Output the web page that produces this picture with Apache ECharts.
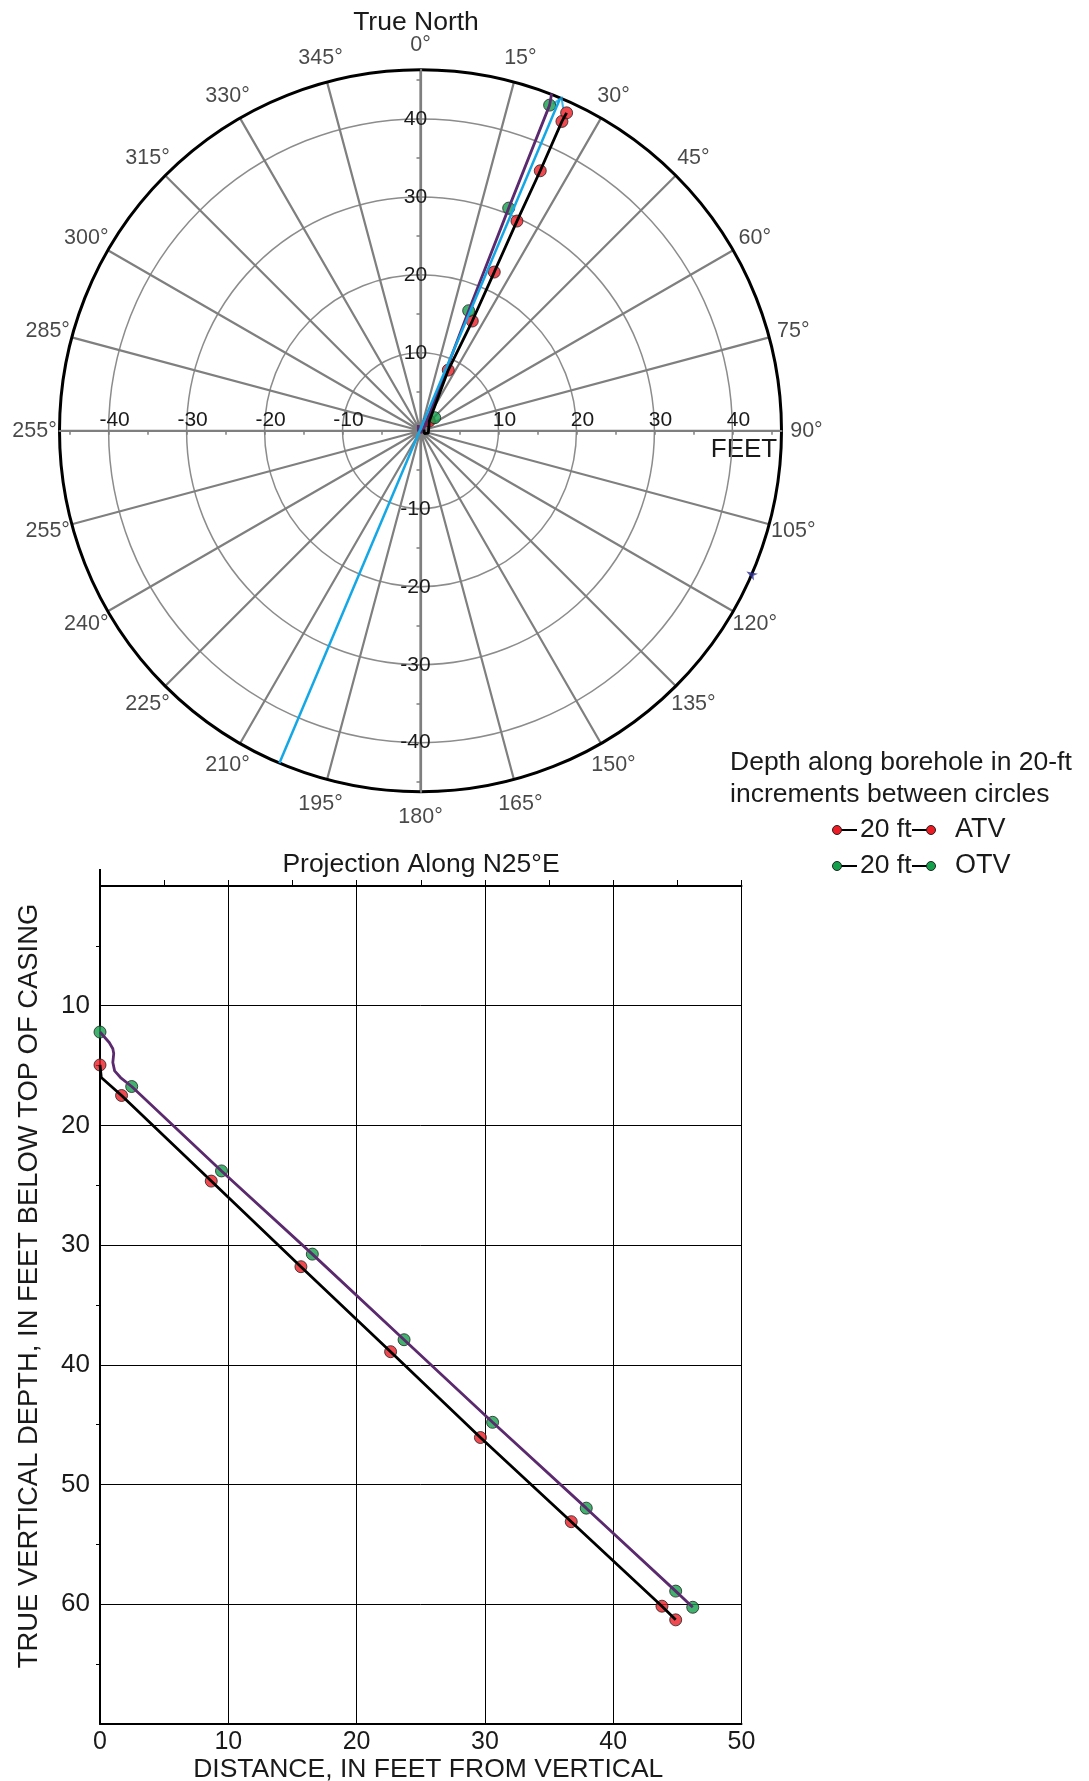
<!DOCTYPE html>
<html>
<head>
<meta charset="utf-8">
<title>Borehole deviation</title>
<script src="https://cdn.jsdelivr.net/npm/echarts@6/dist/echarts.min.js"></script>
<style>
  html, body { margin: 0; padding: 0; background: #fff; }
  #chart { width: 1089px; height: 1781px; }
</style>
</head>
<body>
<div id="chart"></div>
<script>
// 角度标签 (the 270 spoke really is labelled 255° in the source figure)
const angleLabels = ['0°', '15°', '30°', '45°', '60°', '75°', '90°', '105°', '120°', '135°', '150°', '165°',
  '180°', '195°', '210°', '225°', '240°', '255°', '255°', '285°', '300°', '315°', '330°', '345°'];

// plan view, feet east (x) / north (y)
const planMax = 46.3;
const planLabelValues = [-40, -30, -20, -10, 10, 20, 30, 40];
const planTickValues = [-45, -40, -35, -30, -25, -20, -15, -10, -5, 5, 10, 15, 20, 25, 30, 35, 40, 45];

const azimuthLine = [[-18.09, -42.6], [17.87, 42.56]];
const atvPlanPath = [[0.45, 0.15], [0.5, -0.35], [1.0, -0.3], [1.13, 1.26], [3.56, 7.79], [6.64, 14.08],
  [9.46, 20.36], [12.37, 26.9], [15.36, 33.35], [18.14, 39.68], [18.74, 40.78]];
const atvPlanDots = [[1.13, 1.26], [3.56, 7.79], [6.64, 14.08], [9.46, 20.36], [12.37, 26.9],
  [15.36, 33.35], [18.14, 39.68], [18.74, 40.78]];
const otvPlanPath = [[-0.28, 0.74], [-0.28, 0.0], [0.15, -0.2], [0.36, 0.1], [6.18, 15.4],
  [11.31, 28.56], [16.56, 41.77], [16.82, 43.27]];
const otvPlanDots = [[1.82, 1.68], [6.18, 15.4], [11.31, 28.56], [16.56, 41.77]];
const strayMark = [[41.8, -18.06]];

// projection along N25E: [distance ft, depth ft]
const depthLabels = [10, 20, 30, 40, 50, 60];
const atvProjPath = [[0, 14.95], [0.1, 16.0], [1.68, 17.5], [8.67, 24.65], [15.66, 31.8], [22.65, 38.9],
  [29.65, 46.07], [36.73, 53.1], [43.8, 60.16], [44.87, 61.3]];
const atvProjDots = [[0, 14.95], [1.68, 17.5], [8.67, 24.65], [15.66, 31.8], [22.65, 38.9],
  [29.65, 46.07], [36.73, 53.1], [43.8, 60.16], [44.87, 61.3]];
const otvProjPath = [[0, 12.2], [0.72, 13.07], [1.0, 13.6], [1.07, 14.0], [1.0, 14.74], [1.14, 15.44],
  [1.6, 16.0], [2.47, 16.75], [9.47, 23.8], [16.55, 30.75], [23.7, 37.9], [30.6, 44.8],
  [37.9, 51.97], [44.87, 58.9], [46.2, 60.25]];
const otvProjDots = [[0, 12.2], [2.47, 16.75], [9.47, 23.8], [16.55, 30.75], [23.7, 37.9],
  [30.6, 44.8], [37.9, 51.97], [44.87, 58.9], [46.2, 60.25]];

const FONT = "'Liberation Sans', Arial, sans-serif";
const TEXT = '#1a1a1a';
const RED = '#ed1c24';
const GREEN = '#12a04a';
const PURPLE = '#5b2a6e';
const CYAN = '#14a7e6';
const SPOKE = '#7f7f7f';

// plan circle on the page
const CX = 420.5, CY = 430.8, R = 361;
const angleLabelRadius = 49.5;

// arrow heading on the azimuth line
const arrowRotate = -Math.atan2(azimuthLine[1][0], azimuthLine[1][1]) * 180 / Math.PI;

const dotStyle = (color) => ({ color: color, borderColor: '#222', borderWidth: 1 });
const hiddenAxis = (gridIndex) => ({ gridIndex: gridIndex, type: 'value', min: 0, max: 1, show: false });
const txt = (x, y, text, size, align) => ({
  type: 'text', x: x, y: y,
  style: { text: text, fontSize: size, fontFamily: FONT, fill: TEXT, textAlign: align || 'left', textVerticalAlign: 'middle' }
});

const chart = echarts.init(document.getElementById('chart'));
chart.setOption({
  animation: false,
  backgroundColor: '#fff',
  textStyle: { fontFamily: FONT, color: TEXT },
  polar: { center: [CX, CY], radius: R },
  angleAxis: {
    type: 'value',
    min: 0,
    max: 360,
    interval: 15,
    startAngle: 90,
    clockwise: true,
    axisLine: { lineStyle: { color: '#000', width: 3 } },
    axisTick: { show: false },
    axisLabel: { show: false },
    splitLine: { lineStyle: { color: SPOKE, width: 2.2 } }
  },
  radiusAxis: {
    min: 0,
    max: planMax,
    interval: 10,
    axisLine: { show: false },
    axisTick: { show: false },
    axisLabel: { show: false },
    splitLine: { showMaxLine: false, lineStyle: { color: '#8c8c8c', width: 1.5 } }
  },
  grid: [
    // 0: plan view data (square over the circle)
    { left: CX - R, top: CY - R, width: 2 * R, height: 2 * R, outerBoundsMode: 'none' },
    // 1: projection
    { left: 100, top: 886, width: 641.5, height: 838, outerBoundsMode: 'none' },
    // 2: horizontal feet scale, bottom edge on the circle centre
    { left: CX - R, top: CY - R, width: 2 * R, height: R, outerBoundsMode: 'none' },
    // 3: vertical feet scale, left edge on the circle centre
    { left: CX, top: CY - R, width: R, height: 2 * R, outerBoundsMode: 'none' }
  ],
  xAxis: [
    { gridIndex: 0, type: 'value', min: -planMax, max: planMax, show: false },
    {
      gridIndex: 1,
      type: 'value',
      min: 0,
      max: 50,
      interval: 10,
      position: 'bottom',
      axisLine: { onZero: false, lineStyle: { color: '#000', width: 2 } },
      axisTick: { show: false },
      axisLabel: { fontSize: 25, margin: 6, color: TEXT },
      splitLine: { show: true, lineStyle: { color: '#000', width: 1 } },
      name: 'DISTANCE, IN FEET FROM VERTICAL',
      nameLocation: 'middle',
      nameGap: 30,
      nameTextStyle: { fontSize: 26.5, color: TEXT, padding: [0, 0, 0, 15] }
    },
    {
      gridIndex: 1,
      type: 'value',
      min: 0,
      max: 50,
      interval: 5,
      position: 'top',
      axisLine: { onZero: false, lineStyle: { color: '#000', width: 2 } },
      axisTick: { show: true, length: 6, lineStyle: { color: '#000', width: 1 } },
      axisLabel: { show: false },
      splitLine: { show: false }
    },
    {
      gridIndex: 2,
      type: 'value',
      min: -planMax,
      max: planMax,
      position: 'bottom',
      axisLine: { onZero: false, lineStyle: { color: SPOKE, width: 2.2 } },
      axisTick: { customValues: planTickValues, length: 4, lineStyle: { color: SPOKE, width: 1.5 } },
      axisLabel: { customValues: planLabelValues, inside: true, margin: 0, fontSize: 21, color: TEXT, padding: [0, 0, 0, 12] },
      splitLine: { show: false }
    },
    hiddenAxis(3)
  ],
  yAxis: [
    { gridIndex: 0, type: 'value', min: -planMax, max: planMax, show: false },
    {
      gridIndex: 1,
      type: 'value',
      min: 0,
      max: 70,
      interval: 10,
      inverse: true,
      axisLine: { onZero: false, lineStyle: { color: '#000', width: 2 } },
      axisTick: { show: false },
      minorTick: { show: true, splitNumber: 2, length: 4, lineStyle: { color: '#000', width: 1 } },
      axisLabel: { customValues: depthLabels, fontSize: 26, margin: 10, color: TEXT },
      splitLine: { show: true, lineStyle: { color: '#000', width: 1 } },
      name: 'TRUE VERTICAL DEPTH, IN FEET BELOW TOP OF CASING',
      nameLocation: 'middle',
      nameRotate: 90,
      nameGap: 57,
      nameTextStyle: { fontSize: 27.4, color: TEXT, padding: [0, 0, 0, 38] }
    },
    hiddenAxis(2),
    {
      gridIndex: 3,
      type: 'value',
      min: -planMax,
      max: planMax,
      position: 'left',
      axisLine: { onZero: false, lineStyle: { color: SPOKE, width: 2.2 } },
      axisTick: { customValues: planTickValues, length: 4, lineStyle: { color: SPOKE, width: 1.5 } },
      axisLabel: { customValues: planLabelValues, margin: 5, align: 'center', fontSize: 21, color: TEXT },
      splitLine: { show: false }
    }
  ],
  series: [
    // compass labels, placed by the polar scales just outside the rim
    {
      type: 'scatter',
      coordinateSystem: 'polar',
      clip: false,
      silent: true,
      data: angleLabels.map((_, i) => [angleLabelRadius, i * 15]),
      symbolSize: 1,
      itemStyle: { color: 'rgba(0,0,0,0)' },
      label: {
        show: true,
        position: 'inside',
        fontSize: 21.5,
        color: TEXT,
        formatter: (p) => angleLabels[p.dataIndex]
      }
    },
    // plan view
    {
      type: 'line', xAxisIndex: 0, yAxisIndex: 0, data: otvPlanPath,
      symbol: 'none', lineStyle: { color: PURPLE, width: 2.8 }
    },
    {
      type: 'line', xAxisIndex: 0, yAxisIndex: 0, data: atvPlanPath,
      symbol: 'none', lineStyle: { color: '#000', width: 2.8 }
    },
    {
      type: 'line', xAxisIndex: 0, yAxisIndex: 0, data: azimuthLine,
      symbol: 'none', lineStyle: { color: CYAN, width: 2.5 }
    },
    {
      type: 'scatter', xAxisIndex: 0, yAxisIndex: 0, data: [azimuthLine[1]],
      symbol: 'path://M0,10 L5,0 L10,10', symbolSize: [11, 9], symbolRotate: arrowRotate,
      symbolOffset: [0, 3],
      itemStyle: { color: 'none', borderColor: CYAN, borderWidth: 2 }
    },
    {
      type: 'scatter', xAxisIndex: 0, yAxisIndex: 0, data: strayMark,
      symbol: 'arrow', symbolSize: [6, 11], symbolRotate: 60,
      itemStyle: { color: '#2e3192' }
    },
    {
      type: 'scatter', xAxisIndex: 0, yAxisIndex: 0, data: atvPlanDots,
      symbolSize: 12, itemStyle: dotStyle(RED)
    },
    {
      type: 'scatter', xAxisIndex: 0, yAxisIndex: 0, data: otvPlanDots,
      symbolSize: 12, itemStyle: dotStyle(GREEN)
    },
    // projection
    {
      type: 'line', xAxisIndex: 1, yAxisIndex: 1, data: otvProjPath,
      symbol: 'none', lineStyle: { color: PURPLE, width: 2.8 }
    },
    {
      type: 'line', xAxisIndex: 1, yAxisIndex: 1, data: atvProjPath,
      symbol: 'none', lineStyle: { color: '#000', width: 2.8 }
    },
    {
      type: 'scatter', xAxisIndex: 1, yAxisIndex: 1, data: atvProjDots,
      symbolSize: 12, itemStyle: dotStyle(RED)
    },
    {
      type: 'scatter', xAxisIndex: 1, yAxisIndex: 1, data: otvProjDots,
      symbolSize: 12, itemStyle: dotStyle(GREEN)
    }
  ],
  graphic: [
    txt(416, 23, 'True North', 26.5, 'center'),
    txt(744, 450, 'FEET', 26, 'center'),
    txt(421, 865, 'Projection Along N25°E', 26.5, 'center'),
    // left axis of the projection runs a little above the frame
    { type: 'line', shape: { x1: 100, y1: 869, x2: 100, y2: 886 }, style: { stroke: '#000', lineWidth: 2 } },
    // 图例
    txt(730, 763, 'Depth along borehole in 20-ft', 26.5),
    txt(730, 795, 'increments between circles', 26.5),
    { type: 'line', shape: { x1: 841, y1: 830, x2: 857, y2: 830 }, style: { stroke: '#000', lineWidth: 2 } },
    { type: 'line', shape: { x1: 912, y1: 830, x2: 927, y2: 830 }, style: { stroke: '#000', lineWidth: 2 } },
    { type: 'circle', shape: { cx: 837, cy: 830, r: 4.5 }, style: { fill: RED, stroke: '#222', lineWidth: 1 } },
    { type: 'circle', shape: { cx: 931, cy: 830, r: 4.5 }, style: { fill: RED, stroke: '#222', lineWidth: 1 } },
    txt(860, 830, '20 ft', 26.5),
    txt(955, 830, 'ATV', 27),
    { type: 'line', shape: { x1: 841, y1: 866, x2: 857, y2: 866 }, style: { stroke: '#000', lineWidth: 2 } },
    { type: 'line', shape: { x1: 912, y1: 866, x2: 927, y2: 866 }, style: { stroke: '#000', lineWidth: 2 } },
    { type: 'circle', shape: { cx: 837, cy: 866, r: 4.5 }, style: { fill: GREEN, stroke: '#222', lineWidth: 1 } },
    { type: 'circle', shape: { cx: 931, cy: 866, r: 4.5 }, style: { fill: GREEN, stroke: '#222', lineWidth: 1 } },
    txt(860, 866, '20 ft', 26.5),
    txt(955, 866, 'OTV', 27)
  ]
});
</script>
</body>
</html>
